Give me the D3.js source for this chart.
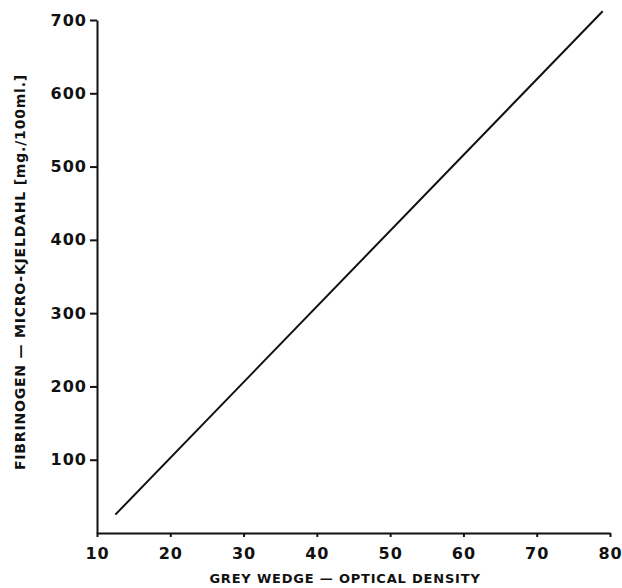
<!DOCTYPE html>
<html>
<head>
<meta charset="utf-8">
<script src="https://cdn.jsdelivr.net/npm/d3@7"></script>
<style>
  body { margin: 0; background: #fff; }
  svg text { font-family: "DejaVu Sans", sans-serif; font-weight: bold; fill: #111; }
</style>
</head>
<body>
<div id="chart"></div>
<script>
// calibration line
const density = [12.5, 79];
const fibrinogen = [25, 712];
const xTicks = [10, 20, 30, 40, 50, 60, 70, 80];
const yTicks = [100, 200, 300, 400, 500, 600, 700];

const width = 622, height = 588;
const margin = { top: 20, right: 12, bottom: 55, left: 97 };

const svg = d3.select("#chart").append("svg")
  .attr("width", width)
  .attr("height", height);

const x = d3.scaleLinear().domain([10, 80]).range([margin.left, width - margin.right]);
const y = d3.scaleLinear().domain([0, 700]).range([height - margin.bottom, margin.top]);

// axes
const xAxis = svg.append("g")
  .attr("transform", `translate(0,${y(0)})`)
  .call(d3.axisBottom(x).tickValues(xTicks).tickSize(4).tickSizeOuter(0).tickPadding(11));

const yAxis = svg.append("g")
  .attr("transform", `translate(${x(10)},0)`)
  .call(d3.axisLeft(y).tickValues(yTicks).tickSize(7).tickSizeOuter(0).tickPadding(3));

[xAxis, yAxis].forEach(a => {
  a.select(".domain").attr("stroke", "#111").attr("stroke-width", 2);
  a.selectAll(".tick line").attr("stroke", "#111").attr("stroke-width", 2);
  a.selectAll(".tick text").style("font-size", "16px").style("letter-spacing", "1px").attr("fill", "#111");
});

// the line
const pts = density.map((d, i) => [d, fibrinogen[i]]);
svg.append("path")
  .datum(pts)
  .attr("fill", "none")
  .attr("stroke", "#111")
  .attr("stroke-width", 2)
  .attr("d", d3.line().x(d => x(d[0])).y(d => y(d[1])));

// titles
svg.append("text")
  .attr("x", 345)
  .attr("y", 583)
  .attr("text-anchor", "middle")
  .style("font-size", "13px")
  .style("letter-spacing", "0.8px")
  .text("GREY WEDGE \u2014 OPTICAL DENSITY");

svg.append("text")
  .attr("transform", "translate(25,272) rotate(-90)")
  .attr("text-anchor", "middle")
  .style("font-size", "14px")
  .style("letter-spacing", "0.8px")
  .text("FIBRINOGEN \u2014 MICRO-KJELDAHL [mg./100ml.]");
</script>
</body>
</html>
